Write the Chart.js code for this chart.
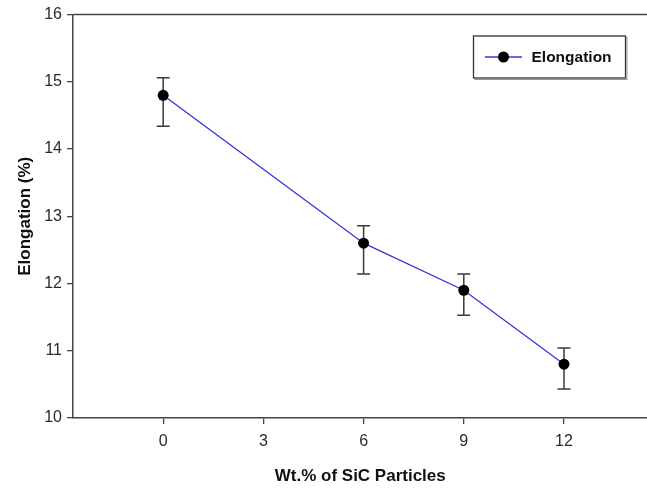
<!DOCTYPE html>
<html>
<head>
<meta charset="utf-8">
<script src="https://cdn.jsdelivr.net/npm/chart.js@4.4.1/dist/chart.umd.min.js"></script>
<style>
  html, body { margin: 0; padding: 0; background: #fff; overflow: hidden; }
  #wrap { width: 647px; height: 488px; overflow: hidden; }
</style>
</head>
<body>
<div id="wrap"><canvas id="elong-chart" width="653" height="488"></canvas></div>
<script>
  // data
  const sicWt = [0, 6, 9, 12];
  const elongation = [14.8, 12.6, 11.9, 10.8];
  const errLow = [14.34, 12.14, 11.53, 10.43];
  const errHigh = [15.06, 12.86, 12.14, 11.04];
  const xTicks = [0, 3, 6, 9, 12];
  const yTicks = [10, 11, 12, 13, 14, 15, 16];

  const FONT = "'Liberation Sans', Arial, sans-serif";
  const axisColor = '#444';

  // error bars with caps
  const errorBars = {
    id: 'errorBars',
    beforeDatasetsDraw(chart) {
      const { ctx, scales: { x, y } } = chart;
      ctx.save();
      ctx.strokeStyle = '#3a3a3a';
      ctx.lineWidth = 1.5;
      sicWt.forEach((v, i) => {
        const px = x.getPixelForValue(v);
        const lo = y.getPixelForValue(errLow[i]);
        const hi = y.getPixelForValue(errHigh[i]);
        ctx.beginPath();
        ctx.moveTo(px, lo); ctx.lineTo(px, hi);
        ctx.moveTo(px - 6.5, lo); ctx.lineTo(px + 6.5, lo);
        ctx.moveTo(px - 6.5, hi); ctx.lineTo(px + 6.5, hi);
        ctx.stroke();
      });
      ctx.restore();
    }
  };

  // top frame line + boxed legend
  const frameAndLegend = {
    id: 'frameAndLegend',
    afterDraw(chart) {
      const { ctx, chartArea } = chart;
      ctx.save();
      ctx.strokeStyle = axisColor;
      ctx.lineWidth = 1.5;
      ctx.beginPath();
      ctx.moveTo(chartArea.left, chartArea.top);
      ctx.lineTo(chartArea.right, chartArea.top);
      ctx.stroke();

      // legend box
      const bx = 473.5, by = 36, bw = 152, bh = 42;
      ctx.strokeStyle = '#999';
      ctx.lineWidth = 1;
      ctx.strokeRect(bx + 1.5, by + 1.5, bw, bh);
      ctx.strokeStyle = '#333';
      ctx.lineWidth = 1.3;
      ctx.fillStyle = '#fff';
      ctx.fillRect(bx, by, bw, bh);
      ctx.strokeRect(bx, by, bw, bh);

      const ds = chart.data.datasets[0];
      const ly = by + bh / 2;
      ctx.strokeStyle = ds.borderColor;
      ctx.lineWidth = 1.3;
      ctx.beginPath();
      ctx.moveTo(485, ly); ctx.lineTo(522, ly);
      ctx.stroke();
      ctx.fillStyle = '#000';
      ctx.beginPath();
      ctx.arc(503.5, ly, 5.5, 0, Math.PI * 2);
      ctx.fill();

      ctx.fillStyle = '#111';
      ctx.font = `bold 15.5px ${FONT}`;
      ctx.textBaseline = 'middle';
      ctx.fillText(ds.label, 531.5, ly + 1);
      ctx.restore();
    }
  };

  new Chart(document.getElementById('elong-chart'), {
    type: 'line',
    data: {
      datasets: [{
        label: 'Elongation',
        data: sicWt.map((v, i) => ({ x: v, y: elongation[i] })),
        borderColor: '#3535d8',
        borderWidth: 1.3,
        pointRadius: 5.5,
        pointBackgroundColor: '#000',
        pointBorderWidth: 0,
        tension: 0,
        fill: false
      }]
    },
    options: {
      responsive: false,
      animation: false,
      layout: { padding: { top: 12, right: 0, left: 0, bottom: 0 } },
      plugins: {
        legend: { display: false },
        tooltip: { enabled: false }
      },
      scales: {
        x: {
          type: 'linear',
          min: -2.7,
          max: 14.5,
          afterBuildTicks: (scale) => { scale.ticks = xTicks.map(v => ({ value: v })); },
          afterFit: (scale) => { scale.height = 70; },
          border: { display: true, color: axisColor, width: 1.5 },
          grid: { drawOnChartArea: false, drawTicks: true, tickLength: 6, color: axisColor, lineWidth: 1.3 },
          ticks: { color: '#2a2a2a', padding: 8, maxRotation: 0, font: { family: FONT, size: 16 } },
          title: {
            display: true,
            text: 'Wt.% of SiC Particles',
            color: '#111',
            padding: { top: 0, bottom: 1 },
            font: { family: FONT, size: 17, weight: 'bold' }
          }
        },
        y: {
          min: 10,
          max: 16,
          afterBuildTicks: (scale) => { scale.ticks = yTicks.map(v => ({ value: v })); },
          afterFit: (scale) => { scale.width = 73; },
          border: { display: true, color: axisColor, width: 1.5 },
          grid: { drawOnChartArea: false, drawTicks: true, tickLength: 6, color: axisColor, lineWidth: 1.3 },
          ticks: { color: '#2a2a2a', padding: 5, font: { family: FONT, size: 16 } },
          title: {
            display: true,
            text: 'Elongation (%)',
            color: '#111',
            padding: { top: 15, bottom: 0 },
            font: { family: FONT, size: 17, weight: 'bold' }
          }
        }
      }
    },
    plugins: [errorBars, frameAndLegend]
  });
</script>
</body>
</html>
